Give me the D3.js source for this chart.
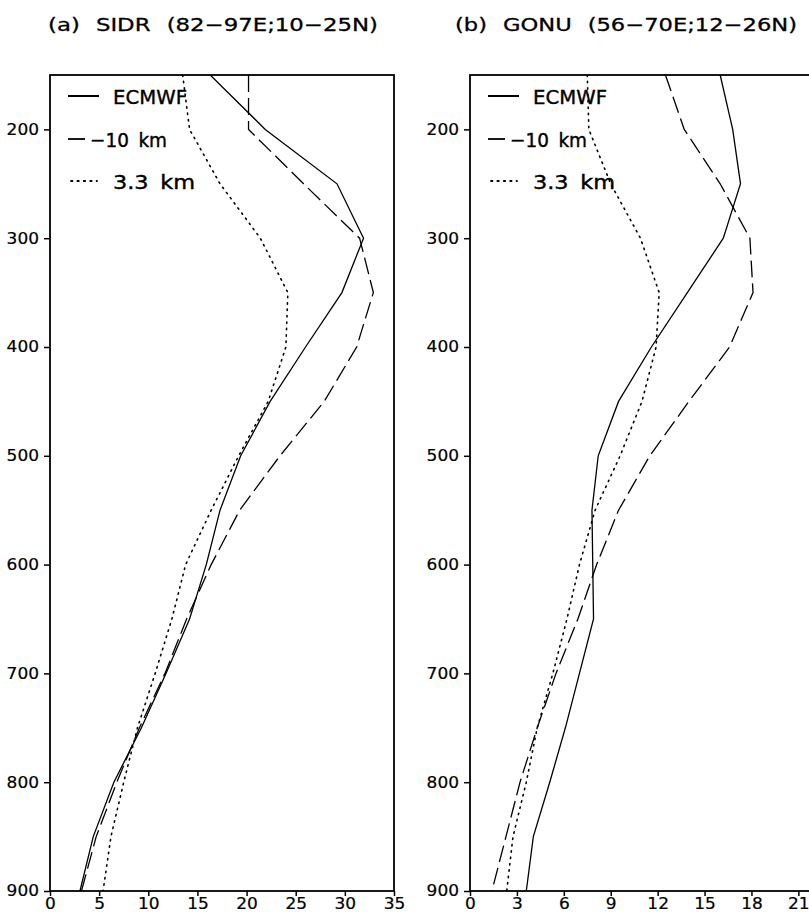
<!DOCTYPE html>
<html>
<head>
<meta charset="utf-8">
<script src="https://cdn.jsdelivr.net/npm/d3@7"></script>
<style>
  body { margin: 0; background: #fff; }
  svg { display: block; }
  text { font-family: "DejaVu Sans", sans-serif; fill: #000; }
</style>
</head>
<body>
<svg id="chart" width="809" height="914"></svg>
<script>
// ---- data ----
const levels = [150, 200, 250, 300, 350, 400, 450, 500, 550, 600, 650, 700, 750, 800, 850, 900];

const sidrEcmwf = [16.3, 21.9, 29.2, 31.9, 29.7, 26.0, 22.4, 19.4, 17.3, 15.9, 14.2, 11.8, 9.3, 6.5, 4.4, 3.05];
const sidr10km  = [20.2, 20.2, 25.8, 31.5, 32.9, 31.2, 27.9, 23.4, 19.3, 16.4, 13.9, 11.7, 9.1, 6.8, 4.7, 3.2];
const sidr33km  = [13.5, 14.2, 17.3, 21.4, 24.2, 24.0, 22.2, 19.2, 16.4, 13.8, 12.4, 10.7, 8.9, 7.5, 6.2, 5.4];

const gonuEcmwf = [16.0, 16.8, 17.3, 16.2, 13.9, 11.6, 9.5, 8.2, 7.8, 7.85, 7.9, 7.0, 6.1, 5.1, 4.05, 3.6];
const gonu10km  = [12.5, 13.7, 16.0, 17.9, 18.1, 16.6, 14.0, 11.5, 9.5, 8.1, 6.9, 5.5, 4.3, 3.2, 2.3, 1.4];
const gonu33km  = [7.5, 7.6, 9.0, 10.9, 12.1, 11.9, 11.0, 9.6, 8.0, 7.0, 6.2, 5.3, 4.3, 3.6, 2.75, 2.35];

const yTicks = [200, 300, 400, 500, 600, 700, 800, 900];
const xTicksA = [0, 5, 10, 15, 20, 25, 30, 35];
const xTicksB = [0, 3, 6, 9, 12, 15, 18, 21];

const titleA = "(a) SIDR (82\u221297E;10\u221225N)";
const titleB = "(b) GONU (56\u221270E;12\u221226N)";
const legendLabels = ["ECMWF", "\u221210 km", "3.3 km"];

// ---- layout ----
const svg = d3.select("#chart");
const plotTop = 75, plotBottom = 891;

const panels = [
  { left: 50, right: 394, domain: [0, 35], ticks: xTicksA, title: titleA, titleX: 48, titleW: 330,
    series: [sidrEcmwf, sidr10km, sidr33km], id: "a" },
  { left: 470, right: 814, domain: [0, 22], ticks: xTicksB, title: titleB, titleX: 455, titleW: 342,
    series: [gonuEcmwf, gonu10km, gonu33km], id: "b" }
];

const styles = [
  { dash: null, width: 1.3 },
  { dash: "17,6", width: 1.3 },
  { dash: "1.4,5", width: 1.6 }
];

const y = d3.scaleLinear().domain([150, 900]).range([plotTop, plotBottom]);

function heavy(sel, w) {
  sel.attr("stroke", "#000").attr("stroke-width", w).attr("paint-order", "stroke");
}

panels.forEach(p => {
  const x = d3.scaleLinear().domain(p.domain).range([p.left, p.right]);
  const g = svg.append("g");

  // title
  g.append("text")
    .attr("x", p.titleX).attr("y", 31)
    .attr("font-size", 18)
    .attr("word-spacing", 7)
    .attr("textLength", p.titleW).attr("lengthAdjust", "spacingAndGlyphs")
    .text(p.title).call(heavy, 0.3);

  // clip
  svg.append("clipPath").attr("id", "clip" + p.id)
    .append("rect").attr("x", p.left).attr("y", plotTop)
    .attr("width", p.right - p.left).attr("height", plotBottom - plotTop);

  const line = d3.line().x(d => x(d[0])).y(d => y(d[1]));
  const lg = g.append("g").attr("clip-path", `url(#clip${p.id})`);
  p.series.forEach((s, i) => {
    lg.append("path")
      .datum(s.map((v, k) => [v, levels[k]]))
      .attr("d", line)
      .attr("fill", "none")
      .attr("stroke", "#000")
      .attr("stroke-width", styles[i].width)
      .attr("stroke-dasharray", styles[i].dash)
      .attr("stroke-linecap", i === 2 ? "round" : "butt");
  });

  // axes
  const yAxis = d3.axisLeft(y).tickValues(yTicks).tickSize(6).tickPadding(5).tickFormat(d3.format("d"));
  const ya = g.append("g").attr("transform", `translate(${p.left},0)`).call(yAxis);
  const xAxis = d3.axisBottom(x).tickValues(p.ticks).tickSize(5).tickPadding(2).tickFormat(d3.format("d"));
  const xa = g.append("g").attr("transform", `translate(0,${plotBottom})`).call(xAxis);
  [ya, xa].forEach(a => {
    a.select(".domain").remove();
    a.selectAll("line").attr("stroke", "#000").attr("stroke-width", 1.5);
    a.selectAll("text").attr("font-size", 15)
      .attr("font-family", "DejaVu Sans, sans-serif").attr("fill", "#000")
      .attr("textLength", function() { return this.textContent.length * 10.8; })
      .attr("lengthAdjust", "spacingAndGlyphs")
      .call(heavy, 0.2);
  });

  // frame
  g.append("rect")
    .attr("x", p.left).attr("y", plotTop)
    .attr("width", p.right - p.left).attr("height", plotBottom - plotTop)
    .attr("fill", "none").attr("stroke", "#000").attr("stroke-width", 1.8);

  // legend
  const lx0 = p.left + 18, lx1 = p.left + 49, tx = p.left + 63;
  const ly = [96, 139, 181];
  const lw = [74, 77, 82];
  legendLabels.forEach((lab, i) => {
    const x1 = i === 1 ? p.left + 35 : lx1;
    g.append("line")
      .attr("x1", i === 2 ? lx0 + 3 : lx0).attr("x2", i === 2 ? lx1 - 2 : x1)
      .attr("y1", ly[i]).attr("y2", ly[i])
      .attr("stroke", "#000")
      .attr("stroke-width", i === 0 ? 2 : 1.8)
      .attr("stroke-dasharray", i === 2 ? "1.4,5" : null)
      .attr("stroke-linecap", i === 2 ? "round" : "butt");
    g.append("text")
      .attr("x", i === 1 ? p.left + 40 : tx).attr("y", ly[i] + 7.5)
      .attr("font-size", 20)
      .attr("word-spacing", 4)
      .attr("textLength", lw[i]).attr("lengthAdjust", "spacingAndGlyphs")
      .text(lab).call(heavy, 0.4);
  });
});
</script>
</body>
</html>
